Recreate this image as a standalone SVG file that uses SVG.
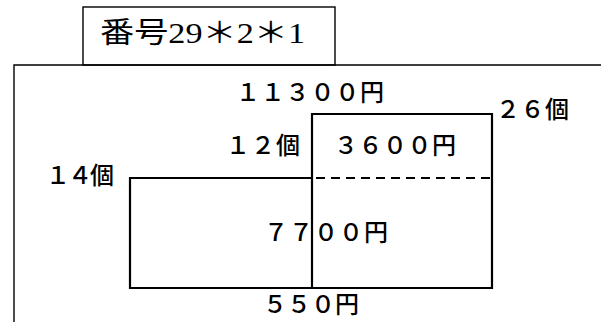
<svg xmlns="http://www.w3.org/2000/svg" width="601" height="322" viewBox="0 0 601 322">
<style>
.frame{fill:none;stroke:#000;stroke-width:1.4}
.shape{fill:none;stroke:#000;stroke-width:2.2}
.dash{fill:none;stroke:#000;stroke-width:2.2;stroke-dasharray:9,6}
.lbl{font-family:"Noto Sans CJK JP","Noto Sans",sans-serif;font-size:24px;fill:#000;font-weight:500}
.title{font-family:"Liberation Serif","Noto Sans CJK JP",serif;font-size:29px;fill:#000}
</style>
<rect width="601" height="322" fill="#fff"/>
<g id="title-box">
<rect class="frame" x="83" y="7" width="252" height="58"/>
<text class="title" x="100" y="43" textLength="205" lengthAdjust="spacingAndGlyphs">番号29＊2＊1</text>
</g>
<g id="main-box">
<path class="frame" d="M14,323 V65 H605"/>
</g>
<g id="connectors">
<path class="shape" d="M312,288 V114 H492 V288 Z"/>
<path class="shape" d="M312,178 H130 V288 H312"/>
<path class="dash" d="M316,178 H492"/>
</g>
<g id="labels">
<text class="lbl" x="236" y="101" textLength="148" lengthAdjust="spacing">１１３００円</text>
<text class="lbl" x="496" y="118" textLength="73" lengthAdjust="spacing">２６個</text>
<text class="lbl" x="226" y="154" textLength="74" lengthAdjust="spacing">１２個</text>
<text class="lbl" x="334" y="154" textLength="122" lengthAdjust="spacing">３６００円</text>
<text class="lbl" x="46" y="184" textLength="68" lengthAdjust="spacing">１４個</text>
<text class="lbl" x="264" y="241" textLength="124" lengthAdjust="spacing">７７００円</text>
<text class="lbl" x="263" y="313" textLength="96" lengthAdjust="spacing">５５０円</text>
</g>
</svg>
